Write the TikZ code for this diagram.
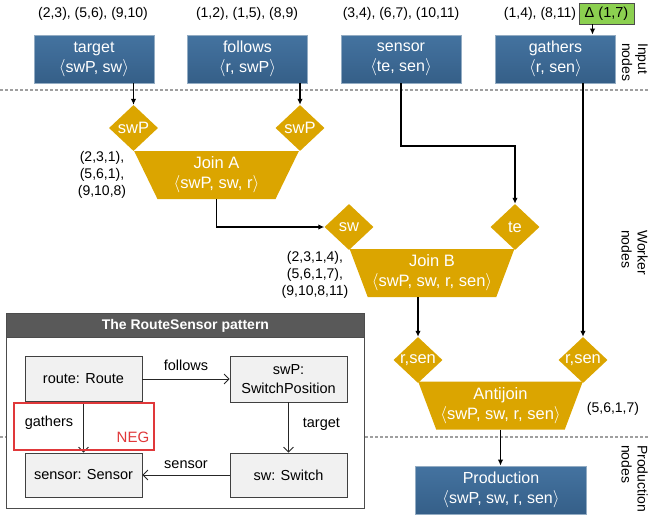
\documentclass[tikz,border=0pt]{standalone}
\usepackage{fontspec}
\setmainfont{Liberation Sans}
\usetikzlibrary{shapes.geometric,arrows.meta}
\definecolor{boxblue}{RGB}{59,104,146}
\definecolor{boxtop}{RGB}{68,115,160}
\definecolor{boxbot}{RGB}{53,95,136}
\definecolor{gold}{RGB}{219,165,0}
\definecolor{deltagreen}{RGB}{140,208,80}
\definecolor{titlegray}{RGB}{89,89,89}
\definecolor{innerfill}{RGB}{241,241,241}
\definecolor{negred}{RGB}{224,56,58}
\begin{document}
\begin{tikzpicture}[x=1pt,y=-1pt,
  inbox/.style={draw=boxblue!55!white, line width=0.8pt, top color=boxtop, bottom color=boxbot, text=white,
    minimum width=120pt, minimum height=48pt, align=center, inner sep=0pt,
    font=\fontsize{16}{22}\selectfont},
  dia/.style={shape=diamond, fill=gold, minimum width=49pt, minimum height=46pt, inner sep=0pt},
  diatext/.style={text=white, font=\fontsize{16.5}{20}\selectfont, inner sep=0pt},
  trap/.style={shape=trapezium, trapezium angle=65, trapezium stretches=true, shape border rotate=180,
    minimum width=165pt, minimum height=48pt, fill=gold, text=white, align=center, inner sep=0pt,
    font=\fontsize{16.5}{20}\selectfont},
  conn/.style={draw=black, line width=1.2pt, -{Latex[length=6pt,width=5.5pt]}},
  ann/.style={font=\fontsize{14}{17}\selectfont, align=center, inner sep=0pt},
  sep/.style={draw=gray!75, line width=1.2pt, dash pattern=on 3pt off 2pt},
  side/.style={font=\fontsize{14}{16}\selectfont, align=left, inner sep=0pt, rotate=-90, anchor=north west},
  pnode/.style={draw=black!75, line width=0.8pt, fill=innerfill, minimum width=117pt, minimum height=45pt,
    align=center, inner sep=0pt, font=\fontsize{14.5}{19}\selectfont},
  pconn/.style={draw=black!85, line width=0.8pt, -{Straight Barb[length=5pt,width=10pt]}},
  plabel/.style={font=\fontsize{14.5}{18}\selectfont, inner sep=0pt}
]
\useasboundingbox (0,0) rectangle (649,515);

% separators
\draw[sep] (0,90) coordinate (s1a) -- (649,90) coordinate (s1b);
\draw[sep] (0,437) coordinate (s2a) -- (649,437) coordinate (s2b);

% input nodes
\node[inbox] (target) at (94,59) {\raisebox{-2pt}{target}\\$\langle$swP, sw$\rangle$};
\node[inbox] (follows) at (247.5,59) {\raisebox{-2pt}{follows}\\$\langle$r, swP$\rangle$};
\node[inbox] (sensor) at (401,59) {\raisebox{-2pt}{sensor}\\$\langle$te, sen$\rangle$};
\node[inbox] (gathers) at (555.5,59) {\raisebox{-2pt}{gathers}\\$\langle$r, sen$\rangle$};

\node[ann] (a1) at (93,14) {(2,3), (5,6), (9,10)};
\node[ann] (a2) at (247,14) {(1,2), (1,5), (8,9)};
\node[ann] (a3) at (401,14) {(3,4), (6,7), (10,11)};
\node[ann] (a4) at (540,14) {(1,4), (8,11)};
\node[draw=black!70, fill=deltagreen, minimum width=55pt, minimum height=21pt, inner sep=0pt,
  font=\fontsize{14.5}{17}\selectfont] (delta) at (606.5,13.5) {Δ (1,7)};

% side labels
\node[side] (lin) at (648,43) {Input\\nodes};
\node[side] (lwk) at (648,230) {Worker\\nodes};
\node[side] (lpr) at (648,445) {Production\\nodes};

% Join A
\node[dia] (dA1) at (133.5,128) {};
\node[diatext] (tA1) at (dA1) {swP};
\node[dia] (dA2) at (300,128) {};
\node[diatext] (tA2) at (dA2) {swP};
\node[trap] (joinA) at (216.5,175) {Join A\\$\langle$swP, sw, r$\rangle$};
\node[ann] (annA) at (102,175) {(2,3,1),\\(5,6,1),\\(9,10,8)};

% Join B
\node[dia] (dB1) at (349,227) {};
\node[diatext] (tB1) at (dB1) {sw};
\node[dia] (dB2) at (515,227) {};
\node[diatext] (tB2) at (dB2) {te};
\node[trap] (joinB) at (432,273) {Join B\\$\langle$swP, sw, r, sen$\rangle$};
\node[ann] (annB) at (315,274.5) {(2,3,1,4),\\(5,6,1,7),\\(9,10,8,11)};

% Antijoin
\node[dia] (dC1) at (418,360) {};
\node[diatext] (tC1) at (dC1) {r,sen};
\node[dia] (dC2) at (583,360) {};
\node[diatext] (tC2) at (dC2) {r,sen};
\node[trap] (anti) at (500.5,405.5) {Antijoin\\$\langle$swP, sw, r, sen$\rangle$};
\node[ann] (annC) at (613,409) {(5,6,1,7)};

% production
\node[inbox, minimum width=171pt] (prod) at (501,490) {\raisebox{-2pt}{Production}\\$\langle$swP, sw, r, sen$\rangle$};

% connectors
\draw[conn] ([xshift=-14pt]delta.south) -- ([xshift=-14pt]delta.south |- gathers.north);
\draw[conn] (dA1 |- target.south) -- (dA1.north);
\draw[conn] (dA2 |- follows.south) -- (dA2.north);
\draw[conn] (joinA.south) -- (joinA.south |- dB1) -- (dB1.west);
\coordinate (sbend) at (0,146);
\draw[conn] (sensor.south) |- (dB2 |- sbend) -- (dB2.north);
\draw[conn] (dC1 |- joinB.south) -- (dC1.north);
\draw[conn] (dC2 |- gathers.south) -- (dC2.north);
\draw[conn] (anti.south) -- (anti.south |- prod.north);

% pattern box
\node[draw=black!70, line width=0.8pt, fill=white, minimum width=358pt, minimum height=195pt,
  anchor=north west, inner sep=0pt] (pbox) at (6,313) {};
\node[draw=black!70, line width=0.8pt, fill=titlegray, text=white, minimum width=358pt, minimum height=24pt,
  anchor=north west, inner sep=0pt, font=\bfseries\fontsize{14}{17}\selectfont] (ptitle) at (6,313) {The RouteSensor pattern};

\node[pnode] (route) at (83.5,379) {route: Route};
\node[pnode, minimum height=46pt] (swp) at (288.5,379) {swP:\\SwitchPosition};
\node[pnode, minimum height=44pt] (sen) at (83.5,475) {sensor: Sensor};
\node[pnode, minimum height=44pt] (sw) at (288.5,475) {sw: Switch};

\draw[pconn] (route) -- (swp) node[plabel, midway, above=8pt] (lfol) {follows};
\draw[pconn] (swp) -- (sw) node[plabel, pos=0.43, right=14pt] (ltar) {target};
\draw[pconn] (sw) -- (sen) node[plabel, midway, above=6pt] (lsen) {sensor};
\draw[pconn] (route) -- (sen);
\node[plabel] (lgat) at (49,423) {gathers};

\node[draw=negred, line width=2pt, minimum width=140pt, minimum height=47pt, inner sep=0pt] (neg) at (84,426.5) {};
\node[text=negred, font=\fontsize{15}{18}\selectfont, inner sep=0pt] (negt) at (133,437) {NEG};
\end{tikzpicture}
\end{document}
